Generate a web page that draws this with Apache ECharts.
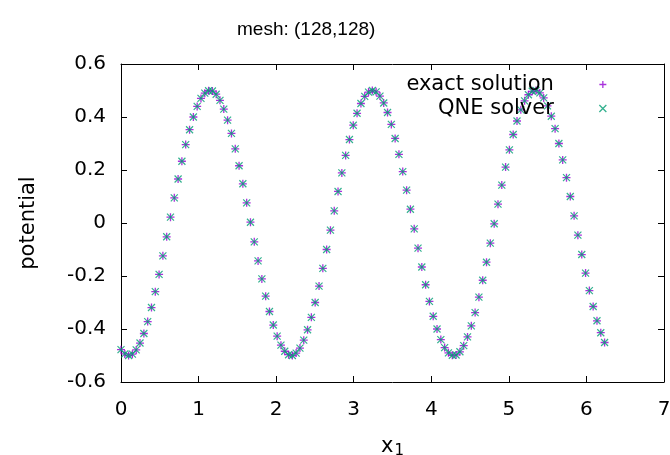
<!DOCTYPE html>
<html>
<head>
<meta charset="utf-8">
<script src="https://cdn.jsdelivr.net/npm/echarts@6/dist/echarts.min.js"></script>
<style>
html,body{margin:0;padding:0;background:#fff;}
#chart{width:670px;height:455px;}
</style>
</head>
<body>
<div id="chart"></div>
<script>
const chartTitle = 'mesh: (128,128)';
const seriesNames = ['exact solution', 'QNE solver'];
const xTickLabels = ['0','1','2','3','4','5','6','7'];
const yTickLabels = ['-0.6','-0.4','-0.2','0','0.2','0.4','0.6'];

const x1 = [
0.000,0.049,0.098,0.147,0.196,0.245,0.295,0.344,0.393,0.442,
0.491,0.540,0.589,0.638,0.687,0.736,0.785,0.834,0.884,0.933,
0.982,1.031,1.080,1.129,1.178,1.227,1.276,1.325,1.374,1.424,
1.473,1.522,1.571,1.620,1.669,1.718,1.767,1.816,1.865,1.914,
1.963,2.013,2.062,2.111,2.160,2.209,2.258,2.307,2.356,2.405,
2.454,2.503,2.553,2.602,2.651,2.700,2.749,2.798,2.847,2.896,
2.945,2.994,3.043,3.093,3.142,3.191,3.240,3.289,3.338,3.387,
3.436,3.485,3.534,3.583,3.632,3.682,3.731,3.780,3.829,3.878,
3.927,3.976,4.025,4.074,4.123,4.172,4.221,4.271,4.320,4.369,
4.418,4.467,4.516,4.565,4.614,4.663,4.712,4.761,4.811,4.860,
4.909,4.958,5.007,5.056,5.105,5.154,5.203,5.252,5.301,5.350,
5.400,5.449,5.498,5.547,5.596,5.645,5.694,5.743,5.792,5.841,
5.890,5.940,5.989,6.038,6.087,6.136,6.185,6.234
];

const exactSolution = [
-0.478,-0.494,-0.500,-0.495,-0.479,-0.453,-0.417,-0.372,-0.319,-0.259,
-0.194,-0.124,-0.052,0.022,0.095,0.166,0.233,0.296,0.352,0.400,
0.440,0.470,0.490,0.499,0.498,0.486,0.463,0.430,0.388,0.338,
0.280,0.216,0.148,0.076,0.003,-0.071,-0.143,-0.211,-0.276,-0.334,
-0.385,-0.427,-0.461,-0.484,-0.497,-0.500,-0.491,-0.472,-0.442,-0.403,
-0.356,-0.300,-0.238,-0.171,-0.100,-0.027,0.046,0.119,0.189,0.255,
0.315,0.369,0.414,0.451,
0.478,0.494,0.500,0.495,0.479,0.453,0.417,0.372,0.319,0.259,
0.194,0.124,0.052,-0.022,-0.095,-0.166,-0.233,-0.296,-0.352,-0.400,
-0.440,-0.470,-0.490,-0.499,-0.498,-0.486,-0.463,-0.430,-0.388,-0.338,
-0.280,-0.216,-0.148,-0.076,-0.003,0.071,0.143,0.211,0.276,0.334,
0.385,0.427,0.461,0.484,0.497,0.500,0.491,0.472,0.442,0.403,
0.356,0.300,0.238,0.171,0.100,0.027,-0.046,-0.119,-0.189,-0.255,
-0.315,-0.369,-0.414,-0.451
];

const qneSolver = [
-0.478,-0.494,-0.500,-0.495,-0.479,-0.453,-0.417,-0.372,-0.319,-0.259,
-0.194,-0.124,-0.052,0.022,0.095,0.166,0.233,0.296,0.352,0.400,
0.440,0.470,0.490,0.499,0.498,0.486,0.463,0.430,0.388,0.338,
0.280,0.216,0.148,0.076,0.003,-0.071,-0.143,-0.211,-0.276,-0.334,
-0.385,-0.427,-0.461,-0.484,-0.497,-0.500,-0.491,-0.472,-0.442,-0.403,
-0.356,-0.300,-0.238,-0.171,-0.100,-0.027,0.046,0.119,0.189,0.255,
0.315,0.369,0.414,0.451,
0.478,0.494,0.500,0.495,0.479,0.453,0.417,0.372,0.319,0.259,
0.194,0.124,0.052,-0.022,-0.095,-0.166,-0.233,-0.296,-0.352,-0.400,
-0.440,-0.470,-0.490,-0.499,-0.498,-0.486,-0.463,-0.430,-0.388,-0.338,
-0.280,-0.216,-0.148,-0.076,-0.003,0.071,0.143,0.211,0.276,0.334,
0.385,0.427,0.461,0.484,0.497,0.500,0.491,0.472,0.442,0.403,
0.356,0.300,0.238,0.171,0.100,0.027,-0.046,-0.119,-0.189,-0.255,
-0.315,-0.369,-0.414,-0.451
];

const FONT = 'DejaVu Sans';
const PURPLE = '#9400d3';
const GREEN = '#009e73';

const chart = echarts.init(document.getElementById('chart'), null, {renderer: 'canvas'});

const axisLineStyle = {show: true, onZero: false, lineStyle: {color: '#000', width: 1}};
const tickStyle = {show: true, inside: true, length: 6, lineStyle: {color: '#000', width: 1}};

function pairData(ys) { return x1.map((v, i) => [v, ys[i]]); }

chart.setOption({
  animation: false,
  backgroundColor: '#fff',
  title: {
    text: chartTitle,
    left: 237, top: 20,
    padding: 0,
    textStyle: {fontFamily: 'Liberation Sans', fontSize: 19, fontWeight: 'normal', color: '#000'}
  },
  legend: {
    data: seriesNames,
    orient: 'vertical',
    align: 'right',
    right: 63, top: 74,
    padding: 0,
    itemGap: 3,
    itemWidth: 88,
    itemHeight: 7,
    selectedMode: false,
    textStyle: {fontFamily: FONT, fontSize: 21, color: '#000'},
    itemStyle: {borderWidth: 1.3}
  },
  grid: {left: 121, right: 6, top: 64, bottom: 73, containLabel: false, outerBoundsMode: 'none'},
  xAxis: [{
    type: 'value', min: 0, max: 7, interval: 1,
    position: 'bottom',
    name: '{x|x}{s|1}',
    nameLocation: 'middle', nameGap: 53,
    nameTextStyle: {
      rich: {
        x: {fontFamily: FONT, fontSize: 21, color: '#000'},
        s: {fontFamily: FONT, fontSize: 15, color: '#000', padding: [9, 0, 0, 1]}
      }
    },
    axisLine: axisLineStyle, axisTick: tickStyle,
    axisLabel: {margin: 18, fontFamily: FONT, fontSize: 20, color: '#000',
      formatter: (v) => xTickLabels[Math.round(v)]},
    splitLine: {show: false}
  }, {
    type: 'value', min: 0, max: 7, interval: 1,
    position: 'top',
    axisLine: axisLineStyle, axisTick: tickStyle,
    axisLabel: {show: false}, splitLine: {show: false}
  }],
  yAxis: [{
    type: 'value', min: -0.6, max: 0.6, interval: 0.2,
    position: 'left',
    name: 'potential',
    nameLocation: 'middle', nameGap: 82, nameRotate: 90,
    nameTextStyle: {fontFamily: FONT, fontSize: 21, color: '#000'},
    axisLine: axisLineStyle, axisTick: tickStyle,
    axisLabel: {margin: 15, fontFamily: FONT, fontSize: 20, color: '#000',
      formatter: (v) => yTickLabels[Math.round((v + 0.6) / 0.2)]},
    splitLine: {show: false}
  }, {
    type: 'value', min: -0.6, max: 0.6, interval: 0.2,
    position: 'right',
    axisLine: axisLineStyle, axisTick: tickStyle,
    axisLabel: {show: false}, splitLine: {show: false}
  }],
  series: [{
    name: seriesNames[0],
    type: 'scatter',
    xAxisIndex: 0, yAxisIndex: 0,
    symbol: 'path://M5,0 L5,10 M0,5 L10,5',
    symbolSize: 8,
    symbolKeepAspect: true,
    itemStyle: {color: PURPLE, borderColor: PURPLE, borderWidth: 1.3},
    data: pairData(exactSolution)
  }, {
    name: seriesNames[1],
    type: 'scatter',
    xAxisIndex: 0, yAxisIndex: 0,
    symbol: 'path://M0,0 L10,10 M10,0 L0,10',
    symbolSize: 7,
    symbolKeepAspect: true,
    itemStyle: {color: GREEN, borderColor: GREEN, borderWidth: 1.2},
    data: pairData(qneSolver)
  }]
});
</script>
</body>
</html>
